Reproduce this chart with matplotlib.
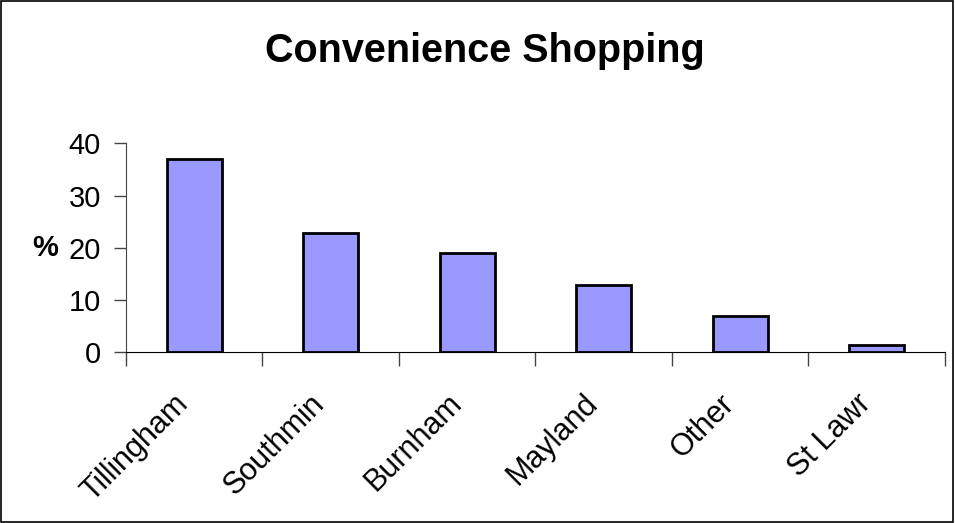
import matplotlib
matplotlib.use("Agg")
from matplotlib import pyplot as plt
from matplotlib.patches import Rectangle
from matplotlib.transforms import ScaledTranslation
import numpy as np

places = ["Tillingham", "Southmin", "Burnham", "Mayland", "Other", "St Lawr"]
percent = [37.0, 22.8, 19.0, 12.9, 6.9, 1.4]
yticks = [0, 10, 20, 30, 40]

plt.rcParams['font.family'] = ['Liberation Sans', 'DejaVu Sans']

fig = plt.figure(figsize=(9.55, 5.23), dpi=100)
fig.patches.append(Rectangle((0.001, 0.002), 0.997, 0.996, transform=fig.transFigure,
                             fill=False, edgecolor='black', linewidth=1.2))
ax = fig.add_axes([0.1319, 0.3264, 0.8576, 0.3996])

x = np.arange(len(places))
ax.bar(x, percent, width=0.4, color='#9999FF', edgecolor='black', linewidth=2)

ax.set_xlim(-0.5, len(places) - 0.5)
ax.set_ylim(0, 40)
ax.set_yticks(yticks)
ax.set_xticks(x)
ax.set_xticklabels(places, rotation=45, ha='right', va='top', rotation_mode='anchor')
ax.set_xticks(np.arange(len(places) + 1) - 0.5, minor=True)
ax.tick_params(axis='x', which='major', length=0, pad=14, labelsize=22)
ax.tick_params(axis='x', which='minor', length=10, width=1, color='#444444')
ax.tick_params(axis='y', length=9, width=1, color='#444444', labelsize=21, pad=9)

# nudge the slanted labels down and left, like the original
shift = ScaledTranslation(-15 / 72, -12 / 72, fig.dpi_scale_trans)
for lab in ax.get_xticklabels():
    lab.set_transform(lab.get_transform() + shift)

for s in ['top', 'right']:
    ax.spines[s].set_visible(False)
ax.spines['left'].set_color('#444444')
ax.spines['bottom'].set_color('black')

fig.text(0.047, 0.525, "%", fontsize=21, fontweight='bold', ha='center', va='center')
fig.text(0.508, 0.902, "Convenience Shopping", fontsize=28.5, fontweight='bold',
         ha='center', va='center')

fig.savefig("out.png", dpi=100)
